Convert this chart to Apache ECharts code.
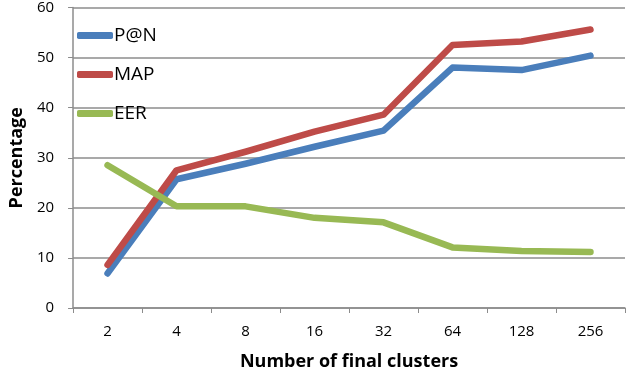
<!DOCTYPE html>
<html><head><meta charset="utf-8">
<script src="https://cdn.jsdelivr.net/npm/echarts@6/dist/echarts.min.js"></script>
<style>html,body{margin:0;padding:0;background:#fff}#c{width:629px;height:376px}</style>
</head><body><div id="c"></div>
<script>
const categories = ['2','4','8','16','32','64','128','256'];
const pAtN = [6.9, 25.7, 28.8, 32.2, 35.4, 48.0, 47.5, 50.4];
const mapV = [8.6, 27.5, 31.2, 35.2, 38.6, 52.5, 53.2, 55.6];
const eer  = [28.5, 20.3, 20.3, 18.0, 17.1, 12.1, 11.4, 11.2];
const seriesNames = ['P@N','MAP','EER'];
const colors = ['#4a7ebb','#be4b48','#98b954'];
const font = 'Open Sans';
const chart = echarts.init(document.getElementById('c'));
const mk = (name, data, color) => ({
  name, type:'line', data, symbol:'none', smooth:false,
  lineStyle:{width:6.5, color, cap:'round', join:'round'}, itemStyle:{color}
});
chart.setOption({
  animation:false,
  grid:{left:71, right:4, top:6, bottom:65},
  legend:{
    orient:'vertical', left:72, top:21, itemGap:20,
    itemWidth:36, itemHeight:7, icon:'roundRect',
    textStyle:{fontFamily:font, fontSize:19, color:'#000', padding:[0,0,0,-4]},
    data:seriesNames
  },
  xAxis:{
    type:'category', data:categories, boundaryGap:true,
    name:'Number of final clusters', nameLocation:'middle', nameGap:45,
    nameTextStyle:{fontFamily:font, fontSize:18, fontWeight:'bold', color:'#000'},
    axisLine:{lineStyle:{color:'#8c8c8c', width:1.5}},
    axisTick:{show:true, length:5, lineStyle:{color:'#8c8c8c'}},
    axisLabel:{fontFamily:font, fontSize:15, color:'#000', margin:16}
  },
  yAxis:{
    type:'value', min:0, max:60, interval:10,
    name:'Percentage', nameLocation:'middle', nameGap:43,
    nameTextStyle:{fontFamily:font, fontSize:18, fontWeight:'bold', color:'#000'},
    axisLine:{show:true, lineStyle:{color:'#8c8c8c', width:1.5}},
    axisTick:{show:true, length:5, lineStyle:{color:'#8c8c8c'}},
    axisLabel:{fontFamily:font, fontSize:15, color:'#000', margin:19},
    splitLine:{lineStyle:{color:'#8c8c8c', width:1.5}}
  },
  series:[mk(seriesNames[0], pAtN, colors[0]), mk(seriesNames[1], mapV, colors[1]), mk(seriesNames[2], eer, colors[2])]
});
</script></body></html>
